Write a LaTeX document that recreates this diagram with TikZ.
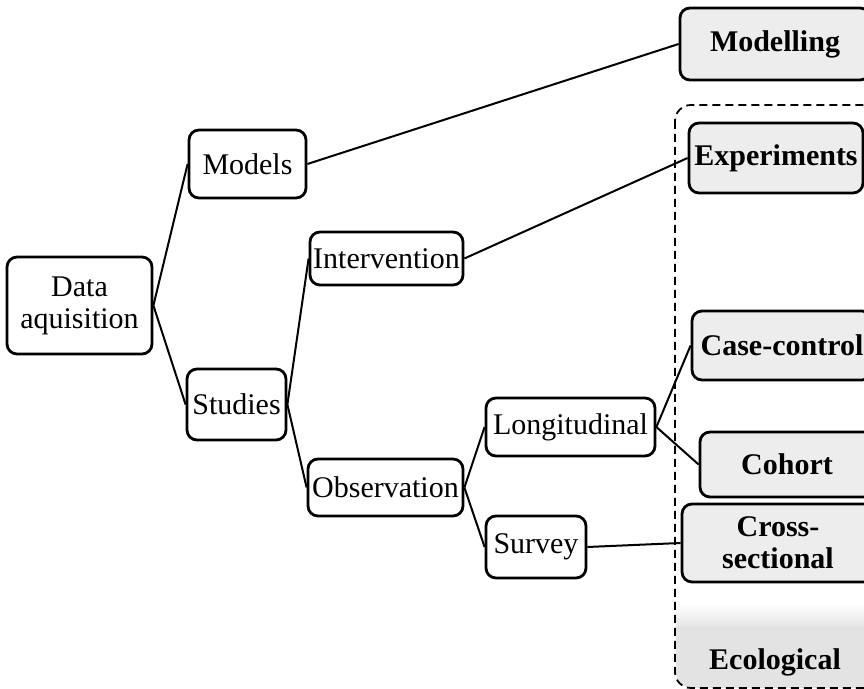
\documentclass[tikz,border=0pt]{standalone}
\usepackage{fontspec}
\setmainfont{Liberation Serif}
\usetikzlibrary{positioning}

\tikzset{
  bx/.style={draw, line width=1.4pt, rounded corners=5pt, align=center, inner sep=0pt,
    font=\fontsize{15}{16}\selectfont},
  bbx/.style={bx, fill=gray!14, font=\fontsize{15}{16}\selectfont\bfseries},
  ln/.style={line width=1pt}
}

\begin{document}
\begin{tikzpicture}[x=0.5pt, y=-0.5pt]
  \useasboundingbox (0,0) rectangle (864,689);
  \clip (0,0) rectangle (864,689);

  % ecological band (fades in, no frame)
  \shade[top color=white, bottom color=gray!22] (676,604) rectangle (900,628);
  \fill[gray!22] (676,627) [rounded corners=8pt] -- (676,688) [sharp corners] -- (900,688) -- (900,627) -- cycle;

  % group of studies
  \draw[dashed, dash pattern=on 4pt off 2.5pt, line width=0.9pt, rounded corners=8pt] (675,105) rectangle (900,688);

  % tree
  \node[bx, minimum width=72.5pt, minimum height=48.5pt] (da) at (79.5,305.5) {Data\\aquisition};
  \node[bx, minimum width=58.5pt, minimum height=34pt] (mod) at (247.5,164) {Models};
  \node[bx, minimum width=49.5pt, minimum height=35.5pt] (stu) at (236.5,404.5) {Studies};
  \node[bx, minimum width=76.5pt, minimum height=26.5pt] (int) at (386.5,258.5) {Intervention};
  \node[bx, minimum width=77.5pt, minimum height=28.5pt] (obs) at (385.5,487.5) {Observation};
  \node[bx, minimum width=84.5pt, minimum height=29pt] (lon) at (570.5,427) {Longitudinal};
  \node[bx, minimum width=50pt, minimum height=31pt] (sur) at (536,547) {Survey};

  % leaves
  \node[bbx, minimum width=95pt, minimum height=36pt] (mdl) at (775,44) {Modelling};
  \node[bbx, minimum width=87pt, minimum height=35pt] (exp) at (776,158) {Experiments};
  \node[bbx, minimum width=90pt, minimum height=34.5pt] (cc) at (782,345.5) {Case-control};
  \node[bbx, minimum width=87pt, minimum height=32.5pt] (coh) at (787,464.5) {Cohort};
  \node[bbx, minimum width=96pt, minimum height=39pt] (cs) at (778,543) {Cross-\\sectional};
  \node[font=\fontsize{15}{16}\selectfont\bfseries] (eco) at (775,662) {Ecological};

  % connections
  \draw[ln] (da.east) -- (mod.west);
  \draw[ln] (da.east) -- (stu.west);
  \draw[ln] (mod.east) -- (mdl.west);
  \draw[ln] (stu.east) -- (int.west);
  \draw[ln] (stu.east) -- (obs.west);
  \draw[ln] (int.east) -- (exp.west);
  \draw[ln] (obs.east) -- (lon.west);
  \draw[ln] (obs.east) -- (sur.west);
  \draw[ln] (lon.east) -- (cc.west);
  \draw[ln] (lon.east) -- (coh.west);
  \draw[ln] (sur.east) -- (cs.west);
\end{tikzpicture}
\end{document}
